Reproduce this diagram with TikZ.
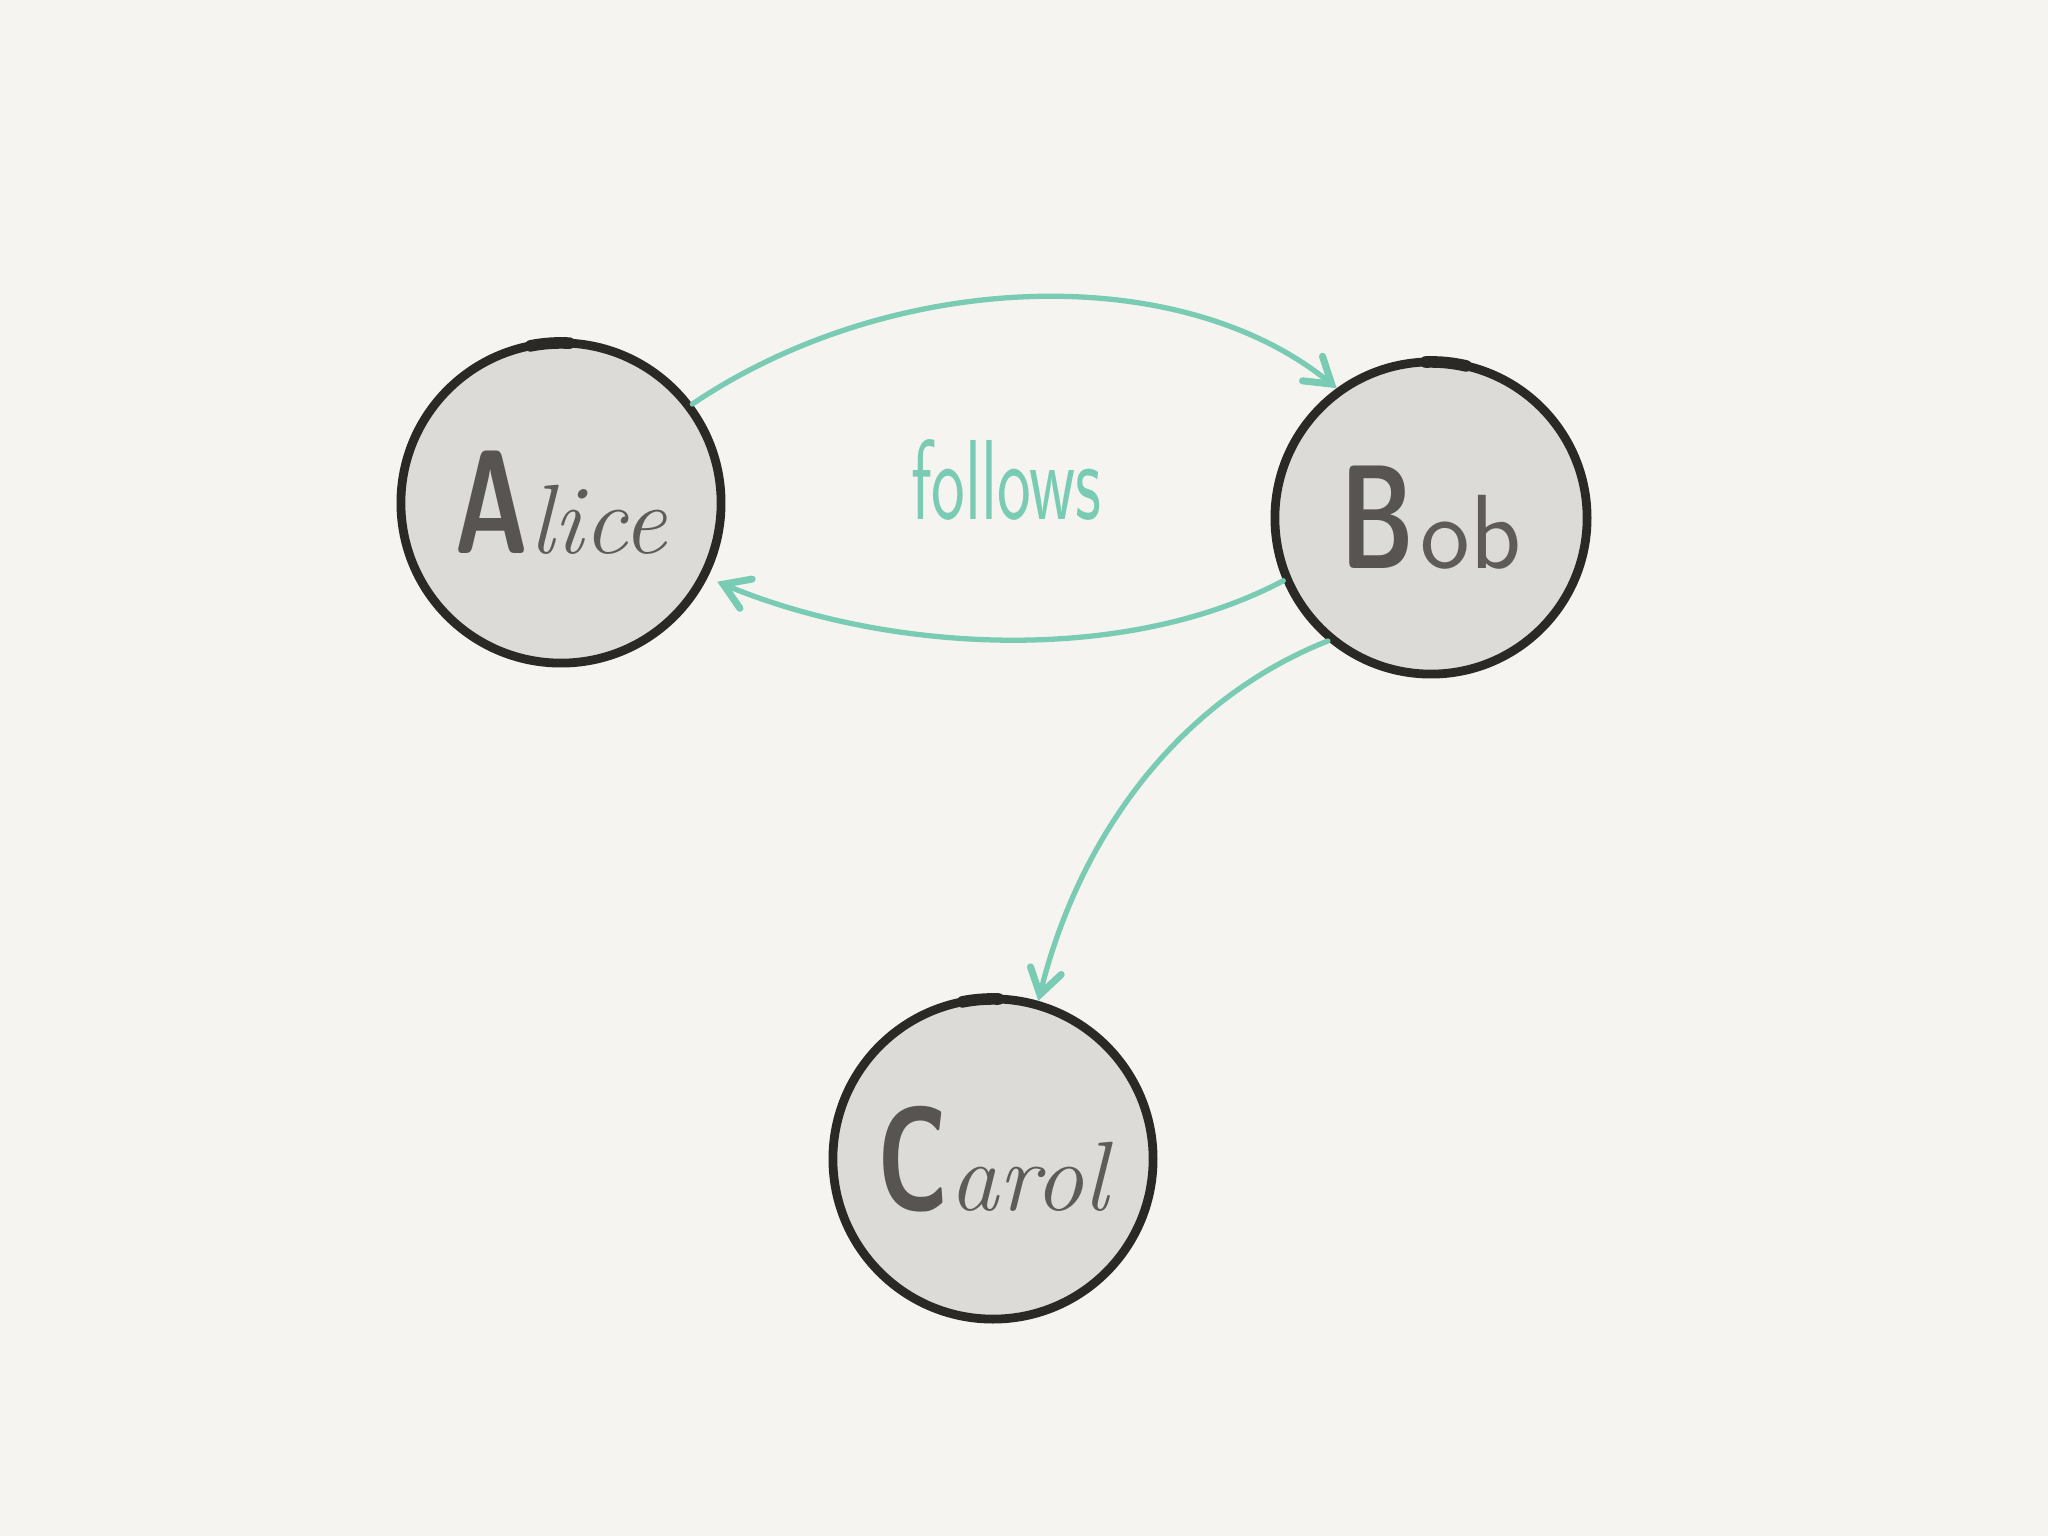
\documentclass[tikz,border=0pt]{standalone}
\usepackage{fontspec}
\usetikzlibrary{arrows.meta}
\definecolor{bgpaper}{HTML}{F5F4F0}
\definecolor{nodefill}{HTML}{DCDBD7}
\definecolor{ink}{HTML}{2A2926}
\definecolor{edgeteal}{HTML}{79CBB3}
\definecolor{letterink}{HTML}{575452}
\definecolor{scriptink}{HTML}{5F5B59}
\newcommand\bigletter[1]{{\color{letterink}\fontsize{40}{40}\selectfont\sffamily\bfseries\scalebox{0.72}[1.05]{#1}}}
\newcommand\cursivepart[1]{{\color{scriptink}\fontsize{28}{28}\selectfont\itshape #1}}
\newcommand\uprightpart[1]{{\color{scriptink}\fontsize{30}{30}\selectfont\sffamily #1}}
\tikzset{
  person/.style={circle, draw=ink, fill=nodefill, line width=2.5pt, minimum size=3.2cm, inner sep=0pt},
  rel/.style={draw=edgeteal, line width=1.5pt, line cap=round,
    -{Straight Barb[length=7pt, width=9pt, line width=2pt, line cap=round]}},
  reltext/.style={text=edgeteal, font=\fontsize{24}{24}\selectfont\sffamily},
  topmark/.style={draw=ink, line width=3.3pt, line cap=round}
}
\begin{document}
\begin{tikzpicture}[x=0.01cm, y=-0.01cm]
  \fill[bgpaper] (0,0) rectangle (2048,1536);
  \useasboundingbox (0,0) rectangle (2048,1536);

  \node[person] (alice) at (561,503) {\bigletter{A}\cursivepart{lice}};
  \node[person, minimum size=3.12cm] (bob) at (1431,518) {\bigletter{B}\,\uprightpart{ob}};
  \node[person] (carol) at (993,1159) {\bigletter{C}\cursivepart{arol}};

  % hand-drawn overlap marks at the top of each circle
  \draw[topmark] ([shift={(101:1.6cm)}]alice.center) arc[start angle=101, end angle=87, radius=1.6cm];
  \draw[topmark] ([shift={(92:1.56cm)}]bob.center) arc[start angle=92, end angle=77, radius=1.56cm];
  \draw[topmark] ([shift={(101:1.6cm)}]carol.center) arc[start angle=101, end angle=88, radius=1.6cm];

  \draw[rel] (alice.37) .. controls +(197,-133) and +(-160,-130) .. (bob.126);
  \draw[rel, shorten >=3pt] (bob.203) .. controls +(-160,85) and +(180,75) .. (alice.-27);
  \draw[rel] (bob.230) .. controls +(-149,59) and +(41,-165) .. (carol.74);

  \node[reltext] (follows) at (1006,480) {\scalebox{0.85}[1.35]{follows}};
\end{tikzpicture}
\end{document}
